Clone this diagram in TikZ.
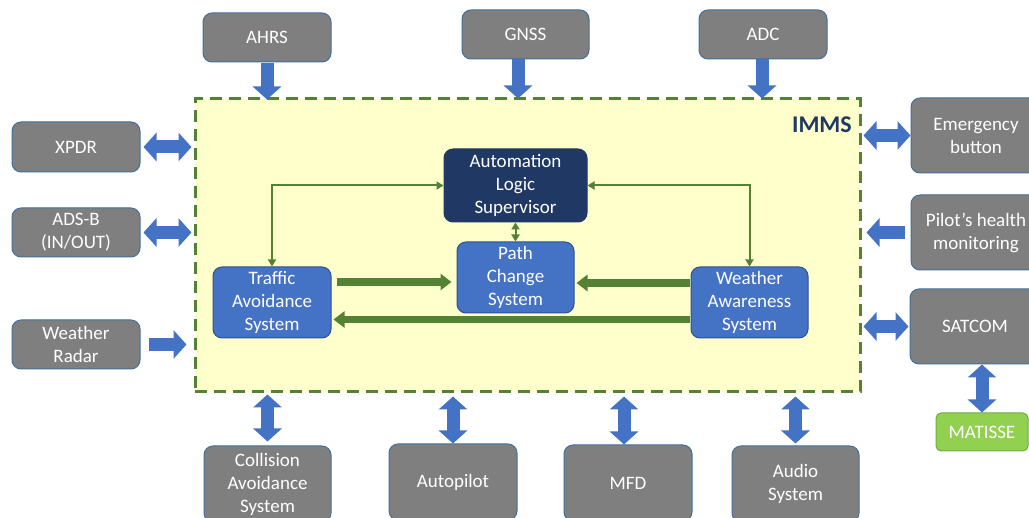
\documentclass[tikz,border=0pt]{standalone}
\usepackage{fontspec}
\setmainfont{Carlito}
\usetikzlibrary{arrows.meta,calc}
\definecolor{boxgray}{HTML}{7F7F7F}
\definecolor{grayborder}{HTML}{41719C}
\definecolor{bblue}{HTML}{4472C4}
\definecolor{bborder}{HTML}{2F528F}
\definecolor{navy}{HTML}{203864}
\definecolor{dgreen}{HTML}{548235}
\definecolor{lgreen}{HTML}{92D050}
\definecolor{lgborder}{HTML}{70AD47}
\definecolor{pale}{HTML}{FFFFCC}
\begin{document}
\begin{tikzpicture}[x=1pt,y=-1pt,
  txt/.style={font=\fontsize{19}{23}\selectfont, text=white, align=center, inner sep=0pt},
  graybox/.style={txt, fill=boxgray, draw=grayborder, line width=1pt, rounded corners=9pt},
  bluebox/.style={txt, fill=bblue, draw=bborder, line width=1pt, rounded corners=9pt},
  navybox/.style={txt, fill=navy, draw=navy, line width=1pt, rounded corners=9pt},
  greenbox/.style={txt, fill=lgreen, draw=lgborder, line width=1pt, rounded corners=5pt},
  immsbox/.style={fill=pale, draw=dgreen, line width=3pt, dash pattern=on 12pt off 7pt},
  tipb/.tip={Triangle[width=28pt,length=13pt]},
  blockone/.style={draw=bblue, line width=13pt, -tipb},
  blocktwo/.style={draw=bblue, line width=13pt, tipb-tipb},
  tipt/.tip={Triangle[width=8pt,length=7pt]},
  thinarrow/.style={draw=dgreen, line width=2pt, tipt-tipt},
  tipk/.tip={Triangle[width=16pt,length=11pt]},
  thickarrow/.style={draw=dgreen, line width=7.5pt, -tipk},
]
\useasboundingbox (0,0) rectangle (1029,518);
\fill[white] (0,0) rectangle (1029,518);

% IMMS container
\node[immsbox, minimum width=665pt, minimum height=293pt] (imms) at (527.5,245.5) {};
\node[font=\fontsize{24}{28}\selectfont\bfseries, text=navy, anchor=east, inner sep=0pt] (immslabel) at (852,125) {IMMS};

% external boxes
\node[graybox, minimum width=128pt, minimum height=49pt] (ahrs) at (267,37.5) {AHRS};
\node[graybox, minimum width=127pt, minimum height=49pt] (gnss) at (525.5,34.5) {GNSS};
\node[graybox, minimum width=128pt, minimum height=49pt] (adc) at (763,34.5) {ADC};
\node[graybox, minimum width=128pt, minimum height=50pt] (xpdr) at (76,147) {XPDR};
\node[graybox, minimum width=128pt, minimum height=49pt] (adsb) at (76,232.5) {ADS-B\\(IN/OUT)};
\node[graybox, minimum width=128pt, minimum height=49pt] (wradar) at (76,344.5) {Weather\\Radar};
\node[graybox, minimum width=130pt, minimum height=75pt] (emerg) at (976,135.5) {Emergency\\button};
\node[graybox, minimum width=130pt, minimum height=75pt] (pilot) at (976,232.5) {Pilot’s health\\monitoring};
\node[graybox, minimum width=130pt, minimum height=75pt] (satcom) at (975,326.5) {SATCOM};
\node[greenbox, minimum width=92pt, minimum height=38pt] (matisse) at (982,432) {MATISSE};
\node[graybox, minimum width=127pt, minimum height=76pt] (coll) at (267.5,484) {Collision\\Avoidance\\System};
\node[graybox, minimum width=128pt, minimum height=76pt] (autop) at (453,482) {Autopilot};
\node[graybox, minimum width=128pt, minimum height=76pt] (mfd) at (628,483) {MFD};
\node[graybox, minimum width=127pt, minimum height=76pt] (audio) at (795.5,484) {Audio\\System};

% inner boxes
\node[navybox, minimum width=143pt, minimum height=73pt] (als) at (515.5,185.5) {Automation\\Logic\\Supervisor};
\node[bluebox, minimum width=117pt, minimum height=71pt] (pcs) at (515.5,277.5) {Path\\Change\\System};
\node[bluebox, minimum width=118pt, minimum height=71pt] (tas) at (272,302.5) {Traffic\\Avoidance\\System};
\node[bluebox, minimum width=117pt, minimum height=71pt] (was) at (749.5,302.5) {Weather\\Awareness\\System};

% inner connectors
\draw[thinarrow] (tas.north) |- (als.west);
\draw[thinarrow] (was.north) |- (als.east);
\draw[thinarrow] (als.south) -- (pcs.north);
\coordinate (p1) at ([yshift=-4.5pt]pcs.west);
\coordinate (p2) at ([yshift=-5.5pt]pcs.east);
\coordinate (p3) at ([yshift=-17pt]tas.east);
\draw[thickarrow, shorten <=5pt, shorten >=5pt] (p1 -| tas.east) -- (p1);
\draw[thickarrow, shorten <=1pt, shorten >=2pt] (p2 -| was.west) -- (p2);
\draw[thickarrow, shorten <=1pt, shorten >=2pt] (p3 -| was.west) -- (p3);

% block arrows (inputs from top)
\draw[blockone] ([yshift=-1pt]ahrs.south) -- ([yshift=-2pt]ahrs.south |- imms.north);
\coordinate (g1) at ([xshift=-7.5pt]gnss.south);
\draw[blockone] (g1) -- ([yshift=-1pt]g1 |- imms.north);
\coordinate (a1) at ([xshift=-1pt]adc.south);
\draw[blockone] (a1) -- ([yshift=-1pt]a1 |- imms.north);

% left side
\draw[blocktwo, shorten <=3pt, shorten >=2pt] (xpdr.east) -- (xpdr.east -| imms.west);
\draw[blocktwo, shorten <=3pt, shorten >=2pt] (adsb.east) -- (adsb.east -| imms.west);
\draw[blockone, shorten <=8pt, shorten >=7pt] (wradar.east) -- (wradar.east -| imms.west);

% right side
\draw[blocktwo, shorten <=2pt] (imms.east |- emerg.west) -- (emerg.west);
\draw[blockone, shorten <=6pt, shorten >=5pt] (pilot.west) -- (pilot.west -| imms.east);
\draw[blocktwo, shorten <=2pt] (imms.east |- satcom.west) -- ([xshift=-1pt]satcom.west);
\draw[blocktwo] (matisse.north |- satcom.south) -- (matisse.north);

% bottom
\draw[blocktwo, shorten <=1pt, shorten >=4pt] (imms.south -| coll.north) -- (coll.north);
\draw[blocktwo, shorten <=3pt] (imms.south -| autop.north) -- (autop.north);
\coordinate (m1) at ([xshift=-4pt]mfd.north);
\draw[blocktwo, shorten <=3pt] (imms.south -| m1) -- (m1);
\draw[blocktwo, shorten <=3pt, shorten >=2pt] (imms.south -| audio.north) -- (audio.north);
\end{tikzpicture}
\end{document}
